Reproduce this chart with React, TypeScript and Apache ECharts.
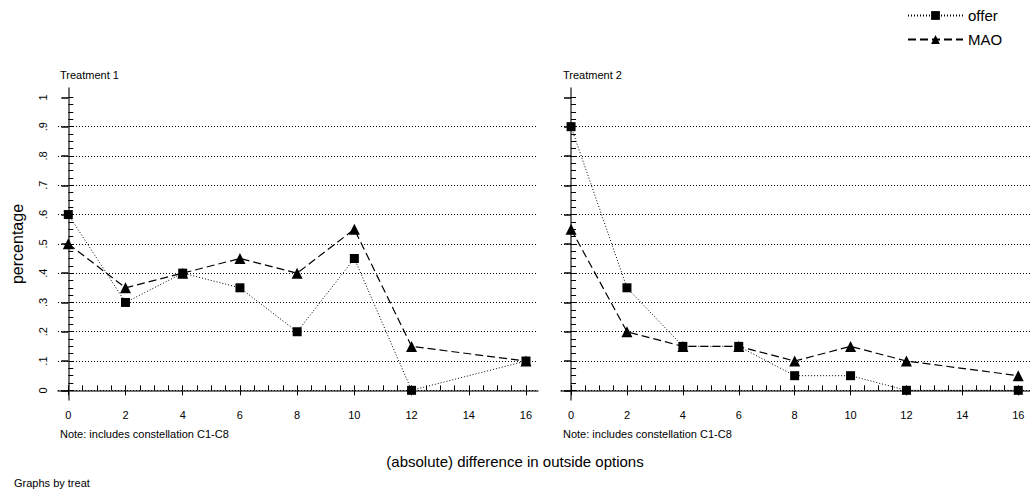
import React, { useEffect, useRef } from "react";
import * as echarts from "echarts";

const xValues = [0, 2, 4, 6, 8, 10, 12, 16];
const t1Offer = [0.6, 0.3, 0.4, 0.35, 0.2, 0.45, 0, 0.1];
const t1MAO = [0.5, 0.35, 0.4, 0.45, 0.4, 0.55, 0.15, 0.1];
const t2Offer = [0.9, 0.35, 0.15, 0.15, 0.05, 0.05, 0, 0];
const t2MAO = [0.55, 0.2, 0.15, 0.15, 0.1, 0.15, 0.1, 0.05];

const yTickValues = [0, 0.1, 0.2, 0.3, 0.4, 0.5, 0.6, 0.7, 0.8, 0.9, 1];
const yTickLabels = ["0", ".1", ".2", ".3", ".4", ".5", ".6", ".7", ".8", ".9", "1"];
const gridLevels = [0, 0.1, 0.2, 0.3, 0.4, 0.5, 0.6, 0.7, 0.8, 0.9];
const xTickValues = [0, 2, 4, 6, 8, 10, 12, 14, 16];
const xTickLabels = ["0", "2", "4", "6", "8", "10", "12", "14", "16"];
const panelTitles = ["Treatment 1", "Treatment 2"];
const noteText = "Note: includes constellation C1-C8";

const yMinor: number[] = [];
for (let i = 0; i <= 40; i++) yMinor.push(Math.round(i * 25) / 1000);
const xMinor: number[] = [];
for (let i = 0; i <= 32; i++) xMinor.push(i / 2);

const FONT = "Liberation Sans, Arial, Helvetica, sans-serif";
const X_MIN = -0.36;
const X_MAX = 16.42;
const Y_MIN = -0.033;
const Y_MAX = 1.032;

export default function App() {
  const ref = useRef<HTMLDivElement>(null);
  useEffect(() => {
    if (!ref.current) return;
    const chart = echarts.init(ref.current, null, { renderer: "svg" });
    const gridLefts = [58, 561];
    const grids = gridLefts.map((l) => ({ left: l, top: 88, width: 480, height: 312 }));
    const xAxes: any[] = [];
    const yAxes: any[] = [];
    gridLefts.forEach((_, gi) => {
      xAxes.push({
        type: "value",
        gridIndex: gi,
        min: X_MIN,
        max: X_MAX,
        axisLine: { show: true, lineStyle: { color: "#444", width: 1.5 } },
        axisTick: { show: true, customValues: xTickValues, length: 5, lineStyle: { color: "#000", width: 1 } },
        axisLabel: {
          show: true,
          customValues: xTickValues,
          formatter: (v: number) => xTickLabels[xTickValues.indexOf(v)] ?? "",
          margin: 9,
          fontSize: 11,
          color: "#000",
          fontFamily: FONT,
        },
        splitLine: { show: false },
      });
      xAxes.push({
        type: "value",
        gridIndex: gi,
        min: X_MIN,
        max: X_MAX,
        axisLine: { show: false },
        axisTick: { show: true, customValues: xMinor, length: 5, lineStyle: { color: "#000", width: 1 } },
        axisLabel: { show: false },
        splitLine: { show: false },
      });
      yAxes.push({
        type: "value",
        gridIndex: gi,
        min: Y_MIN,
        max: Y_MAX,
        axisLine: { show: true, lineStyle: { color: "#444", width: 1.5 } },
        axisTick: { show: true, customValues: yTickValues, length: 7, lineStyle: { color: "#000", width: 1.5 } },
        axisLabel: {
          show: gi === 0,
          customValues: yTickValues,
          formatter: (v: number) => {
            const i = yTickValues.findIndex((t) => Math.abs(t - v) < 1e-6);
            return i >= 0 ? yTickLabels[i] : "";
          },
          rotate: 90,
          margin: 10,
          fontSize: 11,
          color: "#000",
          fontFamily: FONT,
        },
        splitLine: { show: false },
      });
      yAxes.push({
        type: "value",
        gridIndex: gi,
        min: Y_MIN,
        max: Y_MAX,
        axisLine: { show: false },
        axisTick: { show: true, customValues: yMinor, length: 5, lineStyle: { color: "#000", width: 1 } },
        axisLabel: { show: false },
        splitLine: { show: false },
      });
    });

    const panels = [
      { offer: t1Offer, mao: t1MAO },
      { offer: t2Offer, mao: t2MAO },
    ];
    const series: any[] = [];
    panels.forEach((p, gi) => {
      series.push({
        type: "line",
        name: "offer",
        xAxisIndex: gi * 2,
        yAxisIndex: gi * 2,
        data: xValues.map((x, i) => [x, p.offer[i]]),
        symbol: "rect",
        symbolSize: 9,
        showAllSymbol: true,
        itemStyle: { color: "#000" },
        lineStyle: { color: "#000", width: 1, type: [1, 2] },
        z: 5,
        markLine: {
          silent: true,
          symbol: "none",
          label: { show: false },
          lineStyle: { color: "#000", width: 1, type: [1, 2] },
          data: gridLevels.map((v) => ({ yAxis: v })),
          z: 1,
        },
      });
      series.push({
        type: "line",
        name: "MAO",
        xAxisIndex: gi * 2,
        yAxisIndex: gi * 2,
        data: xValues.map((x, i) => [x, p.mao[i]]),
        symbol: "triangle",
        symbolSize: 11,
        showAllSymbol: true,
        itemStyle: { color: "#000" },
        lineStyle: { color: "#000", width: 1.2, type: [8, 4] },
        z: 5,
      });
    });

    const texts: any[] = [];
    gridLefts.forEach((l, gi) => {
      texts.push({
        type: "text",
        left: l + 2,
        top: 69,
        style: { text: panelTitles[gi], fontSize: 11, fill: "#000", fontFamily: FONT },
      });
      texts.push({
        type: "text",
        left: l + 2,
        top: 428,
        style: { text: noteText, fontSize: 11, fill: "#000", fontFamily: FONT },
      });
    });
    texts.push({
      type: "text",
      x: 515,
      y: 461,
      style: {
        text: "(absolute) difference in outside options",
        fontSize: 15,
        fill: "#000",
        fontFamily: FONT,
        align: "center",
        verticalAlign: "middle",
      },
    });
    texts.push({
      type: "text",
      left: 14,
      top: 477,
      style: { text: "Graphs by treat", fontSize: 11, fill: "#000", fontFamily: FONT },
    });
    texts.push({
      type: "text",
      x: 17,
      y: 244,
      rotation: Math.PI / 2,
      style: {
        text: "percentage",
        fontSize: 16,
        fill: "#000",
        fontFamily: FONT,
        align: "center",
        verticalAlign: "middle",
      },
    });

    chart.setOption({
      animation: false,
      backgroundColor: "#fff",
      legend: {
        left: 902,
        top: 3,
        orient: "vertical",
        itemWidth: 55,
        itemHeight: 11,
        itemGap: 9,
        data: ["offer", "MAO"],
        textStyle: { fontSize: 15, color: "#000", fontFamily: FONT },
      },
      grid: grids,
      xAxis: xAxes,
      yAxis: yAxes,
      series,
      graphic: texts,
    });
    return () => chart.dispose();
  }, []);
  return (
    <div
      ref={ref}
      style={{ position: "absolute", left: 0, top: 0, width: 1030, height: 493 }}
    />
  );
}
